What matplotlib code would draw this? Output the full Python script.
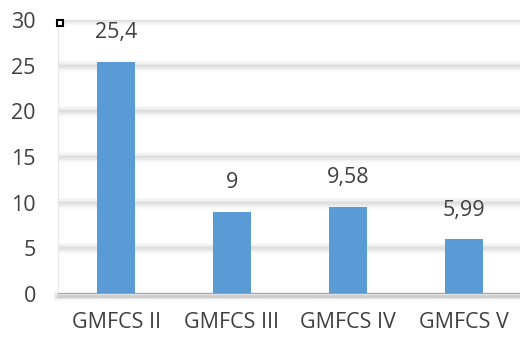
import matplotlib.pyplot as plt
import matplotlib.transforms as mtransforms

categories = ["GMFCS II", "GMFCS III", "GMFCS IV", "GMFCS V"]
values = [25.4, 9, 9.58, 5.99]
y_ticks = [0, 5, 10, 15, 20, 25, 30]

bar_color = "#5B9BD5"
text_color = "#404040"
plt.rcParams["font.family"] = ["Open Sans", "DejaVu Sans"]

fig = plt.figure(figsize=(5.2, 3.37), dpi=100)
ax = fig.add_axes([58 / 520, 43 / 337, 464 / 520, 274 / 337])

x = list(range(len(categories)))
ax.bar(x, values, width=0.32, color=bar_color, zorder=3)

# soft, shadowed gridlines
for yv in y_ticks[1:]:
    for lw, a in [(8, 0.05), (5.5, 0.07), (3.5, 0.10), (1.5, 0.12)]:
        ax.axhline(yv, color="#9a9a9a", lw=lw, alpha=a, zorder=1, solid_capstyle="butt")

# baseline with a shadow underneath
shadow = mtransforms.offset_copy(ax.transData, fig=fig, x=0, y=-2, units="dots")
for lw, a in [(6, 0.07), (4, 0.11), (2, 0.16)]:
    ax.plot([-0.5, 3.6], [0, 0], color="#606060", lw=lw, alpha=a,
            transform=shadow, zorder=2, clip_on=False)
ax.axhline(0, color="#a0a0a0", lw=1.3, zorder=4)

for xi, v in zip(x, values):
    label = f"{v:g}".replace(".", ",")
    ax.annotate(label, (xi, v), xytext=(0, 21), textcoords="offset points",
                ha="center", va="center", fontsize=15.5, color=text_color)

ax.set_xlim(-0.5, 3.5)
ax.set_ylim(0, 30)
ax.set_yticks(y_ticks)
ax.set_xticks(x)
ax.set_xticklabels(categories)
ax.tick_params(axis="both", length=0, labelsize=15.5, colors=text_color)
ax.tick_params(axis="y", pad=16)
ax.tick_params(axis="x", pad=13)

for side in ["top", "right", "bottom"]:
    ax.spines[side].set_visible(False)
ax.spines["left"].set_color("#e6e6e6")

# small square handle at the corner of the plot area
ax.plot([0.004], [0.99], marker="s", ms=5, mfc="white", mec="black", mew=1.5,
        transform=ax.transAxes, clip_on=False, zorder=5)

fig.savefig("out.png", dpi=100)
